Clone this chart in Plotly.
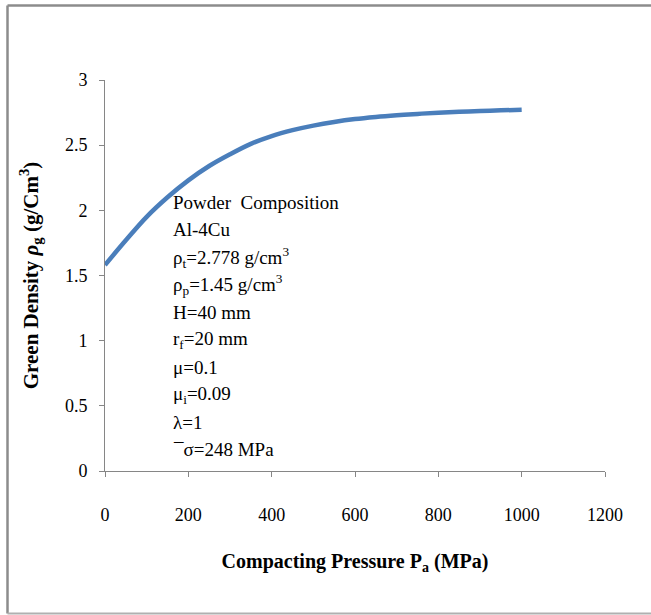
import plotly.graph_objects as go

pressure = [0, 50, 100, 150, 200, 250, 300, 350, 400, 450, 500, 550, 600, 650,
            700, 750, 800, 850, 900, 950, 1000]
density = [1.58, 1.77, 1.95, 2.10, 2.23, 2.34, 2.43, 2.51, 2.57, 2.615, 2.65, 2.678,
           2.70, 2.716, 2.729, 2.74, 2.749, 2.756, 2.762, 2.767, 2.772]

x_ticks = [0, 200, 400, 600, 800, 1000, 1200]
y_ticks = [0, 0.5, 1, 1.5, 2, 2.5, 3]
y_tick_labels = ["0", "0.5", "1", "1.5", "2", "2.5", "3"]

info_lines = [
    "Powder  Composition",
    "Al-4Cu",
    "ρ<sub>t</sub>=2.778 g/cm<sup>3</sup>",
    "ρ<sub>p</sub>=1.45 g/cm<sup>3</sup>",
    "H=40 mm",
    "r<sub>f</sub>=20 mm",
    "μ=0.1",
    "μ<sub>i</sub>=0.09",
    "λ=1",
    "¯σ=248 MPa",
]

serif = "Liberation Serif, Times New Roman, serif"
axis_col = "#868686"

W, H = 651, 615
L, T, R, B = 105, 80, 46, 144
pw, ph = W - L - R, H - T - B

fig = go.Figure()
fig.add_trace(go.Scatter(
    x=pressure, y=density, mode="lines",
    line=dict(color="#4a7ebb", width=4.5, shape="spline", smoothing=1.0),
    showlegend=False, hoverinfo="skip",
))

fig.update_layout(
    width=W, height=H,
    margin=dict(l=L, r=R, t=T, b=B),
    paper_bgcolor="white", plot_bgcolor="white",
    font=dict(family=serif, size=18, color="black"),
    xaxis=dict(
        range=[0, 1200], tickvals=x_ticks, ticktext=[str(v) for v in x_ticks],
        showgrid=False, zeroline=False, showline=True, linecolor=axis_col, linewidth=1,
        ticks="outside", ticklen=5, tickcolor=axis_col, ticklabelstandoff=22,
        tickfont=dict(family=serif, size=18),
        title=dict(text="<b>Compacting Pressure P<sub>a</sub> (MPa)</b>",
                   font=dict(family=serif, size=20), standoff=30),
    ),
    yaxis=dict(
        range=[0, 3], tickvals=y_ticks, ticktext=y_tick_labels,
        showgrid=False, zeroline=False, showline=True, linecolor=axis_col, linewidth=1,
        ticks="outside", ticklen=5, tickcolor=axis_col, ticklabelstandoff=8,
        tickfont=dict(family=serif, size=18),
        title=dict(text="<b>Green Density <i>ρ</i><sub>g</sub> (g/Cm<sup>3</sup>)</b>",
                   font=dict(family=serif, size=21), standoff=20),
    ),
)


def px_x(px):
    return (px - L) / pw


def px_y(py):
    return (H - B - py) / ph


# outer chart border: left, top and bottom edges
border = dict(color="#8c8c8c", width=2.5)
xl, xr, yt, yb = px_x(7.5), px_x(651), px_y(5.5), px_y(613.5)
fig.add_shape(type="line", xref="paper", yref="paper", x0=xl, x1=xl, y0=yb, y1=yt, line=border, layer="below")
fig.add_shape(type="line", xref="paper", yref="paper", x0=xl, x1=xr, y0=yt, y1=yt, line=border, layer="below")
fig.add_shape(type="line", xref="paper", yref="paper", x0=xl, x1=xr, y0=yb, y1=yb,
              line=dict(color="#b0b0b0", width=2), layer="below")

top_px = 202
step = 27.5
for i, txt in enumerate(info_lines):
    py = top_px + i * step
    fig.add_annotation(
        xref="paper", yref="paper",
        x=px_x(171), y=px_y(py),
        xanchor="left", yanchor="middle",
        text=txt, showarrow=False, align="left",
        font=dict(family=serif, size=19, color="black"),
    )

fig.write_html(
    "out.html",
    config={"displayModeBar": False},
    post_script=(
        "document.body.style.margin='0';"
        "document.body.style.overflow='hidden';"
        "document.documentElement.style.overflow='hidden';"
    ),
)
